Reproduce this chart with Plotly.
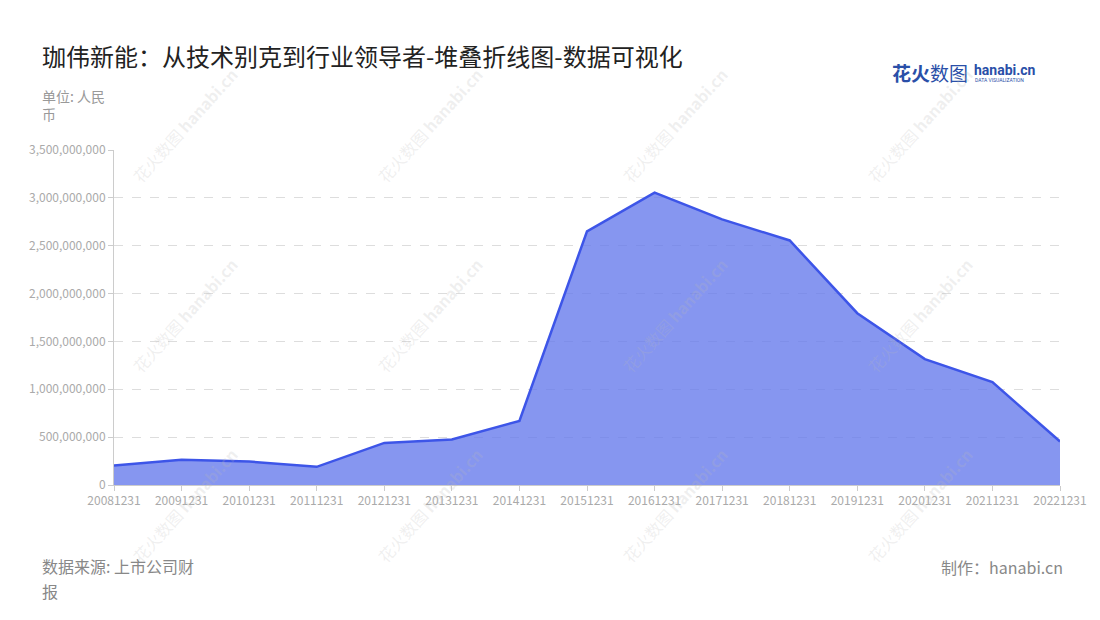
import plotly.graph_objects as go

categories = ["20081231", "20091231", "20101231", "20111231", "20121231", "20131231",
              "20141231", "20151231", "20161231", "20171231", "20181231", "20191231",
              "20201231", "20211231", "20221231"]
values = [205e6, 265e6, 245e6, 190e6, 440e6, 475e6, 670e6, 2650e6, 3055e6, 2775e6,
          2555e6, 1795e6, 1315e6, 1075e6, 455e6]
y_ticks = [0, 500e6, 1000e6, 1500e6, 2000e6, 2500e6, 3000e6, 3500e6]

FONT = "Noto Sans CJK SC"

W, H = 1100, 620
L, R, T, B = 114, W - 1060, 150, H - 485

fig = go.Figure()
fig.add_trace(go.Scatter(
    x=categories, y=values, mode="lines", fill="tozeroy",
    line=dict(color="#3d55e8", width=2.5),
    fillcolor="rgba(104,124,236,0.8)",
    hoverinfo="x+y",
))


def px2paper(px, py):
    return (px - L) / (W - L - R), 1 - (py - T) / (H - T - B)


annots = [
    dict(text="珈伟新能：从技术别克到行业领导者-堆叠折线图-数据可视化", px=40, py=55,
         font=dict(size=24, color="#222222", family=FONT), xanchor="left"),
    dict(text="单位: 人民", px=40, py=96,
         font=dict(size=14, color="#999999", family=FONT), xanchor="left"),
    dict(text="币", px=40, py=114,
         font=dict(size=14, color="#999999", family=FONT), xanchor="left"),
    dict(text="数据来源: 上市公司财", px=40, py=566,
         font=dict(size=16, color="#888888", family=FONT), xanchor="left"),
    dict(text="报", px=40, py=591,
         font=dict(size=16, color="#888888", family=FONT), xanchor="left"),
    dict(text="制作：hanabi.cn", px=1065, py=567,
         font=dict(size=16, color="#888888", family=FONT), xanchor="right"),
    dict(text="<b>花火</b>数图", px=890, py=73,
         font=dict(size=19, color="#2a4fa8", family=FONT), xanchor="left"),
    dict(text="<b>hanabi.cn</b>", px=972, py=70,
         font=dict(size=14, color="#2a4fa8", family="Roboto"), xanchor="left"),
    dict(text="DATA VISUALIZATION", px=973, py=80,
         font=dict(size=5, color="#2a4fa8", family="Roboto"), xanchor="left"),
]

# faint watermark grid
for cx in [185, 430, 675, 920]:
    for cy in [125, 315, 505]:
        annots.append(dict(text="花火数图 <b>hanabi.cn</b>", px=cx, py=cy, textangle=-48,
                           font=dict(size=16, color="rgba(185,185,185,0.22)", family=FONT),
                           xanchor="center"))

annotations = []
for a in annots:
    px, py = a.pop("px"), a.pop("py")
    x, y = px2paper(px, py)
    annotations.append(dict(a, x=x, y=y, xref="paper", yref="paper",
                            showarrow=False, yanchor="middle"))

fig.update_layout(
    width=W, height=H,
    paper_bgcolor="white", plot_bgcolor="white",
    margin=dict(l=L, r=R, t=T, b=B),
    showlegend=False,
    font=dict(family=FONT, color="#999999", size=12),
    xaxis=dict(
        type="category", range=[0, len(categories) - 1],
        showgrid=False, showline=True, linecolor="#cccccc", linewidth=1,
        ticks="outside", ticklen=5, tickcolor="#cccccc",
        tickfont=dict(size=12, color="#aaaaaa"),
    ),
    yaxis=dict(
        range=[0, 3500e6], tickvals=y_ticks, tickformat=",d",
        showgrid=True, gridcolor="#dddddd", griddash="dash", gridwidth=1,
        showline=True, linecolor="#cccccc", linewidth=1,
        ticks="outside", ticklen=5, tickcolor="#cccccc",
        tickfont=dict(size=12, color="#aaaaaa"), zeroline=False,
    ),
    annotations=annotations,
)

fig.write_html(
    "out.html",
    config={"responsive": False, "displayModeBar": False},
    post_script="document.body.style.margin='0';document.body.style.overflow='hidden';",
)
